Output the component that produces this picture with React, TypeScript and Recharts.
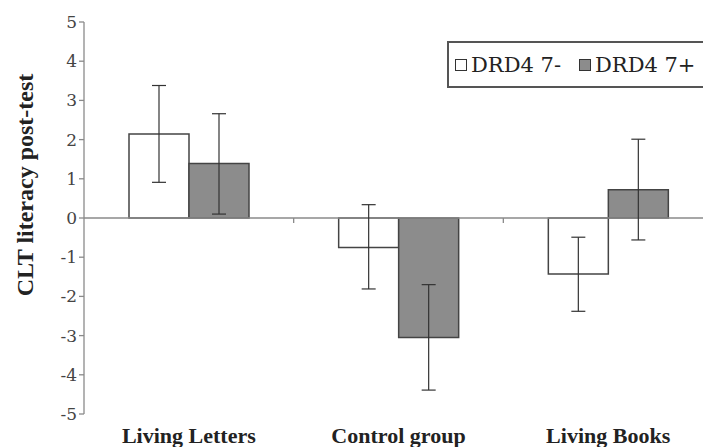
import { BarChart, Bar, XAxis, YAxis, ErrorBar, ReferenceLine, Legend } from 'recharts';

// values
const categories = ['Living Letters', 'Control group', 'Living Books'];
const seriesNames = ['DRD4 7-', 'DRD4 7+'];
const drd4Minus = [2.14, -0.75, -1.43];
const drd4MinusLow = [0.91, -1.81, -2.38];
const drd4MinusHigh = [3.38, 0.34, -0.49];
const drd4Plus = [1.39, -3.05, 0.72];
const drd4PlusLow = [0.10, -4.39, -0.56];
const drd4PlusHigh = [2.66, -1.70, 2.01];
const yTicks = [-5, -4, -3, -2, -1, 0, 1, 2, 3, 4, 5];

const data = categories.map((name, i) => ({
  name,
  minus: drd4Minus[i],
  minusErr: [drd4Minus[i] - drd4MinusLow[i], drd4MinusHigh[i] - drd4Minus[i]],
  plus: drd4Plus[i],
  plusErr: [drd4Plus[i] - drd4PlusLow[i], drd4PlusHigh[i] - drd4Plus[i]],
}));

const boldFont = 'Liberation Serif, serif';
const font = 'DejaVu Serif, serif';

// zero line with small tick marks at the category boundaries
const ZeroLine = (props: any) => {
  const { x1, x2, y1 } = props;
  const step = (x2 - x1) / categories.length;
  return (
    <g>
      <line x1={x1} x2={x2} y1={y1} y2={y1} stroke="#8a8a8a" strokeWidth={1.3} />
      {categories.slice(1).map((c, i) => (
        <line key={c} x1={x1 + step * (i + 1)} x2={x1 + step * (i + 1)} y1={y1} y2={y1 + 5} stroke="#8a8a8a" strokeWidth={1.3} />
      ))}
    </g>
  );
};

const YLabel = ({ viewBox }: any) => {
  const cx = viewBox.x + 1;
  const cy = viewBox.y + viewBox.height / 2 - 33;
  return (
    <text x={cx} y={cy} transform={`rotate(-90 ${cx} ${cy})`} textAnchor="middle" dominantBaseline="central"
      style={{ fontFamily: boldFont, fontSize: 24, fontWeight: 700, fill: '#222' }}>
      CLT literacy post-test
    </text>
  );
};

const LegendBox = ({ payload }: any) => {
  const items = [...(payload || [])].sort((a: any, b: any) => seriesNames.indexOf(a.value) - seriesNames.indexOf(b.value));
  return (
    <div style={{
      border: '2px solid #555', height: 47, width: 300, boxSizing: 'border-box',
      display: 'flex', alignItems: 'center', paddingLeft: 6, fontFamily: font, fontSize: 21, color: '#222',
    }}>
      {items.map((p: any) => (
        <div key={p.value} style={{ display: 'flex', alignItems: 'center', marginRight: 18 }}>
          <span style={{ display: 'inline-block', width: 10, height: 10, background: p.color, border: '1.5px solid #333', marginRight: 4 }} />
          {p.value}
        </div>
      ))}
    </div>
  );
};

export default function App() {
  return (
    <div style={{ position: 'absolute', left: 0, top: 0, width: 703, height: 447, overflow: 'hidden', background: '#fff' }}>
      <BarChart width={720} height={447} data={data} margin={{ top: 22, right: 7, left: 24, bottom: 0 }} barGap={0} barCategoryGap={45}>
        <XAxis dataKey="name" axisLine={false} tickLine={false} height={33} interval={0}
          tick={{ fontFamily: boldFont, fontSize: 22, fontWeight: 700, fill: '#222' }} dy={5} />
        <YAxis domain={[-5, 5]} ticks={yTicks} width={60} interval={0}
          axisLine={{ stroke: '#8a8a8a', strokeWidth: 1.3 }} tickLine={{ stroke: '#8a8a8a', strokeWidth: 1.3 }} tickSize={5}
          tick={{ fontFamily: font, fontSize: 17, fill: '#444' }}
          label={<YLabel />} />
        <ReferenceLine y={0} shape={ZeroLine} />
        <Legend layout="vertical" align="center" verticalAlign="middle" content={LegendBox}
          wrapperStyle={{ left: 447, top: 41, width: 300 }} />
        <Bar dataKey="minus" name={seriesNames[0]} fill="#ffffff" stroke="#444" strokeWidth={1.5} isAnimationActive={false}>
          <ErrorBar dataKey="minusErr" width={7} stroke="#333" strokeWidth={1.2} />
        </Bar>
        <Bar dataKey="plus" name={seriesNames[1]} fill="#8c8c8c" stroke="#444" strokeWidth={1.5} isAnimationActive={false}>
          <ErrorBar dataKey="plusErr" width={7} stroke="#333" strokeWidth={1.2} />
        </Bar>
      </BarChart>
    </div>
  );
}
